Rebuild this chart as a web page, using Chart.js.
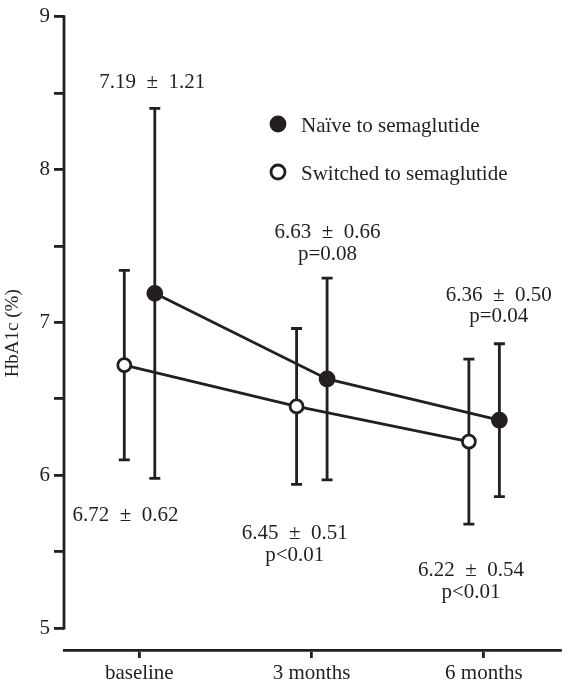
<!DOCTYPE html>
<html>
<head>
<meta charset="utf-8">
<script src="https://cdn.jsdelivr.net/npm/chart.js@4.4.1/dist/chart.umd.min.js"></script>
<style>
  body { margin: 0; background: #fff; }
  #wrap { width: 570px; height: 685px; }
</style>
</head>
<body>
<div id="wrap"><canvas id="hbaChart"></canvas></div>
<script>
// Daten aus der Abbildung
const categories = ['baseline', '3 months', '6 months'];
const naiveMean = [7.19, 6.63, 6.36];
const naiveSd = [1.21, 0.66, 0.50];
const switchedMean = [6.72, 6.45, 6.22];
const switchedSd = [0.62, 0.51, 0.54];
const yTicks = [5, 5.5, 6, 6.5, 7, 7.5, 8, 8.5, 9];
const naiveNotes = [['7.19  ±  1.21'], ['6.63  ±  0.66', 'p=0.08'], ['6.36  ±  0.50', 'p=0.04']];
const switchedNotes = [['6.72  ±  0.62'], ['6.45  ±  0.51', 'p<0.01'], ['6.22  ±  0.54', 'p<0.01']];

const ink = '#231f20';
const font = '"Liberation Serif", "Times New Roman", serif';
const lw = 2.8;

// Lage der Beschriftungen in Achsenwerten (x, y der ersten Zeile)
const naiveNotePos = [[0.075, 8.53], [1.092, 7.55], [2.086, 7.14]];
const switchedNotePos = [[-0.08, 5.70], [0.902, 5.58], [1.925, 5.34]];
const lineGap = 0.14;

const errorBars = {
  id: 'errorBars',
  beforeDatasetsDraw(chart) {
    const ctx = chart.ctx;
    const y = chart.scales.y;
    const sds = [naiveSd, switchedSd];
    ctx.save();
    ctx.strokeStyle = ink;
    ctx.lineWidth = lw;
    chart.data.datasets.forEach((ds, d) => {
      chart.getDatasetMeta(d).data.forEach((pt, i) => {
        const m = ds.data[i].y;
        const top = y.getPixelForValue(m + sds[d][i]);
        const bot = y.getPixelForValue(m - sds[d][i]);
        ctx.beginPath();
        ctx.moveTo(pt.x, top); ctx.lineTo(pt.x, bot);
        ctx.moveTo(pt.x - 5.5, top); ctx.lineTo(pt.x + 5.5, top);
        ctx.moveTo(pt.x - 5.5, bot); ctx.lineTo(pt.x + 5.5, bot);
        ctx.stroke();
      });
    });
    // y-Achse nur von 5 bis 9
    const xl = chart.chartArea.left;
    ctx.beginPath();
    ctx.moveTo(xl, y.getPixelForValue(9) - lw / 2);
    ctx.lineTo(xl, y.getPixelForValue(5) + lw / 2);
    ctx.stroke();
    ctx.restore();
  },
  afterDraw(chart) {
    const ctx = chart.ctx;
    const xs = chart.scales.x, ys = chart.scales.y;
    ctx.save();
    ctx.fillStyle = ink;
    ctx.font = '21px ' + font;
    ctx.textAlign = 'center';
    ctx.textBaseline = 'alphabetic';
    const drawNotes = (notes, pos) => {
      notes.forEach((lines, i) => {
        lines.forEach((t, k) => {
          ctx.fillText(t.replace(/ /g, '\u00A0'), xs.getPixelForValue(pos[i][0]), ys.getPixelForValue(pos[i][1] - k * lineGap));
        });
      });
    };
    drawNotes(naiveNotes, naiveNotePos);
    drawNotes(switchedNotes, switchedNotePos);

    // Legende
    const lx = chart.chartArea.left + 214;
    const rows = [124, 172];
    ctx.textAlign = 'left';
    chart.data.datasets.forEach((ds, d) => {
      ctx.beginPath();
      ctx.arc(lx, rows[d], 7, 0, Math.PI * 2);
      ctx.fillStyle = ds.pointBackgroundColor;
      ctx.fill();
      ctx.lineWidth = lw;
      ctx.strokeStyle = ink;
      ctx.stroke();
      ctx.fillStyle = ink;
      ctx.fillText(ds.label, lx + 23, rows[d] + 8);
    });
    ctx.restore();
  }
};

new Chart(document.getElementById('hbaChart'), {
  type: 'line',
  data: {
    datasets: [{
      label: 'Naïve to semaglutide',
      data: naiveMean.map((v, i) => ({ x: i + 0.09, y: v })),
      borderColor: ink,
      borderWidth: lw,
      pointRadius: 7,
      pointBorderWidth: lw,
      pointBackgroundColor: ink,
      pointBorderColor: ink
    }, {
      label: 'Switched to semaglutide',
      data: switchedMean.map((v, i) => ({ x: i - 0.087, y: v })),
      borderColor: ink,
      borderWidth: lw,
      pointRadius: 6.5,
      pointBorderWidth: lw,
      pointBackgroundColor: '#ffffff',
      pointBorderColor: ink
    }]
  },
  options: {
    responsive: true,
    maintainAspectRatio: false,
    animation: false,
    layout: { padding: { top: 15, right: 5, left: 0, bottom: 0 } },
    plugins: { legend: { display: false }, tooltip: { enabled: false } },
    scales: {
      x: {
        type: 'linear',
        min: -0.437,
        max: 2.443,
        afterBuildTicks: s => { s.ticks = categories.map((c, i) => ({ value: i })); },
        afterFit: s => { s.height = 35; },
        ticks: {
          autoSkip: false,
          maxRotation: 0,
          padding: 3,
          color: ink,
          font: { family: font, size: 21 },
          callback: v => categories[v]
        },
        grid: { drawOnChartArea: false, drawTicks: true, tickLength: 8, color: ink, lineWidth: lw },
        border: { display: true, color: ink, width: lw }
      },
      y: {
        min: 4.857,
        max: 9,
        afterBuildTicks: s => { s.ticks = yTicks.map(v => ({ value: v })); },
        afterFit: s => { s.width = 64; },
        ticks: {
          autoSkip: false,
          padding: 4,
          color: ink,
          font: { family: font, size: 21 },
          callback: v => Number.isInteger(v) ? v : ''
        },
        grid: { drawOnChartArea: false, drawTicks: true, tickLength: 10, color: ink, lineWidth: lw },
        border: { display: false },
        title: {
          display: true,
          text: 'HbA1c (%)',
          color: ink,
          padding: { top: 2, bottom: 2 },
          font: { family: font, size: 19 }
        }
      }
    }
  },
  plugins: [errorBars]
});
</script>
</body>
</html>
